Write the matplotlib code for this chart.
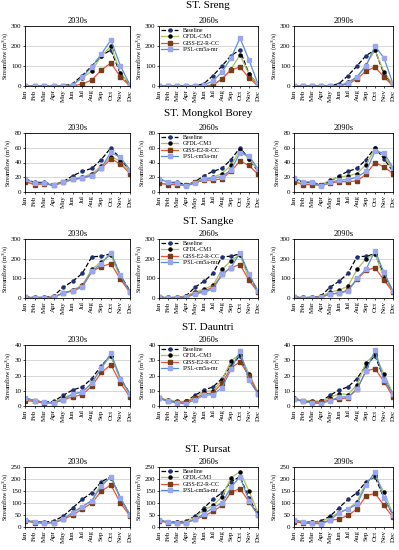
import numpy as np
import matplotlib
matplotlib.use('Agg')
import matplotlib.pyplot as plt

plt.rcParams['font.family'] = ['Liberation Serif', 'DejaVu Serif']

months = ['Jan', 'Feb', 'Mar', 'Apr', 'May', 'Jun', 'Jul', 'Aug', 'Sep', 'Oct', 'Nov', 'Dec']
periods = ['2030s', '2060s', '2090s']
models = ['Baseline', 'GFDL-CM3', 'GISS-E2-R-CC', 'IPSL-cm5a-mr']

# ---- ST. Sreng ----
sreng_base = [0, 0, 0, 0, 0, 12, 52, 100, 152, 180, 60, 5]
sreng_gfdl = [[0, 0, 0, 0, 0, 5, 40, 75, 150, 200, 65, 5],
              [0, 0, 0, 0, 0, 0, 5, 35, 85, 155, 60, 5],
              [0, 0, 0, 0, 0, 0, 20, 45, 105, 180, 70, 5]]
sreng_giss = [[0, 0, 0, 0, 0, 0, 10, 30, 80, 115, 45, 0],
              [0, 0, 0, 0, 0, 0, 5, 35, 80, 95, 40, 0],
              [0, 0, 0, 0, 0, 0, 10, 35, 75, 95, 45, 0]]
sreng_ipsl = [[0, 0, 0, 0, 0, 5, 45, 95, 160, 230, 100, 5],
              [0, 0, 0, 0, 0, 5, 25, 70, 140, 240, 130, 10],
              [0, 0, 0, 0, 0, 0, 15, 45, 100, 200, 140, 10]]

# ---- ST. Mongkol Borey ----
mongkol_base = [18, 13, 13, 10, 14, 22, 28, 32, 44, 60, 45, 28]
mongkol_gfdl = [[15, 10, 12, 9, 14, 18, 20, 25, 35, 48, 42, 27],
                [13, 10, 11, 9, 14, 18, 20, 25, 36, 57, 45, 30],
                [16, 11, 11, 10, 16, 20, 22, 25, 37, 59, 49, 30]]
mongkol_giss = [[14, 10, 11, 9, 13, 17, 19, 23, 32, 45, 38, 25],
                [12, 10, 10, 9, 13, 16, 16, 18, 28, 42, 36, 24],
                [14, 10, 10, 9, 12, 14, 14, 15, 24, 40, 34, 25]]
mongkol_ipsl = [[18, 12, 12, 9, 13, 17, 19, 22, 33, 54, 47, 30],
                [18, 13, 12, 8, 12, 17, 19, 21, 30, 53, 49, 31],
                [19, 14, 13, 8, 13, 16, 17, 20, 28, 55, 53, 33]]

# ---- ST. Sangke ----
sangke_base = [5, 3, 3, 10, 55, 85, 125, 210, 212, 225, 115, 35]
sangke_gfdl = [[3, 2, 2, 5, 25, 40, 65, 145, 185, 220, 100, 30],
               [3, 2, 2, 10, 30, 45, 65, 145, 190, 220, 95, 30],
               [3, 2, 2, 8, 30, 40, 60, 145, 200, 225, 100, 35]]
sangke_giss = [[3, 2, 2, 4, 25, 38, 60, 135, 160, 175, 95, 28],
               [3, 2, 2, 5, 25, 35, 55, 120, 155, 170, 90, 30],
               [3, 2, 2, 5, 20, 25, 40, 95, 140, 155, 90, 30]]
sangke_ipsl = [[3, 2, 2, 3, 25, 35, 55, 135, 175, 230, 115, 30],
               [3, 2, 2, 4, 20, 30, 45, 120, 155, 230, 120, 35],
               [3, 2, 2, 4, 20, 25, 35, 100, 145, 240, 130, 35]]

# ---- ST. Dauntri ----
dauntri_base = [5, 3.5, 2.5, 3, 7, 10.5, 12.5, 18, 26.5, 33, 18, 8]
dauntri_gfdl = [[4.5, 3, 2, 2.5, 5, 8, 9, 15, 25, 33, 17, 8],
                [5.5, 4, 3, 3, 6, 9.5, 10, 17, 29.5, 34, 21, 9],
                [5, 3.5, 3.5, 3, 5.5, 8, 7.5, 14, 28.5, 34, 21, 8]]
dauntri_giss = [[3.5, 3, 2, 2, 4, 6, 7.5, 13, 22, 27, 15, 6],
                [5, 3.5, 2.5, 2.5, 5, 8, 8.5, 15, 25, 29, 20, 8],
                [4.5, 3, 2.5, 2.5, 4, 4.5, 5.5, 11, 23, 24.5, 16, 6]]
dauntri_ipsl = [[5.5, 3.5, 2.5, 2, 4, 8, 9, 15, 25, 34.5, 18, 8],
                [5, 3, 2, 1.5, 4, 7, 7.5, 12, 24, 36, 17, 8],
                [4.5, 3, 2, 1.5, 3.5, 6, 6, 11, 23, 36.5, 17, 8]]

# ---- ST. Pursat ----
pursat_base = [30, 22, 20, 25, 45, 80, 115, 143, 188, 210, 120, 50]
pursat_gfdl = [[28, 20, 18, 20, 35, 60, 85, 110, 180, 205, 120, 50],
               [30, 20, 20, 22, 42, 70, 90, 125, 205, 230, 150, 60],
               [30, 20, 20, 22, 40, 60, 75, 105, 185, 215, 145, 55]]
pursat_giss = [[25, 18, 16, 18, 32, 50, 75, 100, 150, 175, 100, 45],
               [25, 18, 16, 18, 32, 45, 65, 90, 145, 160, 105, 50],
               [22, 17, 15, 17, 28, 33, 48, 75, 130, 140, 90, 40]]
pursat_ipsl = [[30, 20, 17, 17, 32, 60, 85, 110, 170, 210, 120, 50],
               [30, 20, 17, 17, 32, 55, 80, 100, 165, 210, 110, 50],
               [30, 20, 15, 13, 28, 60, 75, 95, 175, 230, 120, 50]]

stations = ['ST. Sreng', 'ST. Mongkol Borey', 'ST. Sangke', 'ST. Dauntri', 'ST. Pursat']
yticks = [[0, 100, 200, 300], [0, 20, 40, 60, 80], [0, 100, 200, 300],
          [0, 10, 20, 30, 40], [0, 50, 100, 150, 200, 250]]
station_data = [(sreng_base, sreng_gfdl, sreng_giss, sreng_ipsl),
                (mongkol_base, mongkol_gfdl, mongkol_giss, mongkol_ipsl),
                (sangke_base, sangke_gfdl, sangke_giss, sangke_ipsl),
                (dauntri_base, dauntri_gfdl, dauntri_giss, dauntri_ipsl),
                (pursat_base, pursat_gfdl, pursat_giss, pursat_ipsl)]

# line style per model: (line colour, linestyle, marker, marker colour)
styles = [('k', '--', 'o', '#1f2f7a'),
          ('#a9c25d', '-', 'o', 'k'),
          ('#e8553a', '-', 's', '#7a3e1a'),
          ('#5b8fd9', '-', 's', '#9aa6ee')]

W, H = 399, 550
fig = plt.figure(figsize=(W / 100, H / 100), dpi=100)

col_x = [(25, 130), (159, 258), (294, 393)]
row_y = [(26, 86), (133, 192), (239, 298), (345, 406), (467, 527)]
title_y = [5, 114, 222, 328, 450]

x = np.arange(12)
for r in range(5):
    base, gfdl, giss, ipsl = station_data[r]
    fig.text(208 / W, 1 - title_y[r] / H, stations[r], ha='center', va='center', fontsize=8)
    for c in range(3):
        x0, x1 = col_x[c]
        top, bot = row_y[r]
        ax = fig.add_axes([x0 / W, 1 - bot / H, (x1 - x0) / W, (bot - top) / H])
        series = [base, gfdl[c], giss[c], ipsl[c]]
        for s, (lc, ls, mk, mc), name in zip(series, styles, models):
            ax.plot(x, s, ls, color=lc, lw=0.9, marker=mk, ms=2.2,
                    markerfacecolor=mc, markeredgecolor=mc, label=name)
        ax.set_xlim(0, 11)
        ax.set_ylim(yticks[r][0], yticks[r][-1])
        ax.set_yticks(yticks[r])
        ax.set_xticks(x)
        ax.set_xticklabels(months, rotation=90)
        ax.tick_params(labelsize=5, length=1.5, pad=1, width=0.5)
        ax.yaxis.grid(True, color='#c8c8c8', lw=0.5)
        ax.set_axisbelow(True)
        for sp in ax.spines.values():
            sp.set_linewidth(0.6)
        ax.set_ylabel('Streamflow (m$^3$/s)', fontsize=4.5, labelpad=1)
        ax.set_title(periods[c], fontsize=6, pad=2)
        if c == 1:
            ax.legend(loc='upper left', fontsize=4.2, frameon=False, handlelength=3,
                      borderaxespad=0.2, labelspacing=0.25, borderpad=0.1)

fig.savefig('out.png', dpi=100)
